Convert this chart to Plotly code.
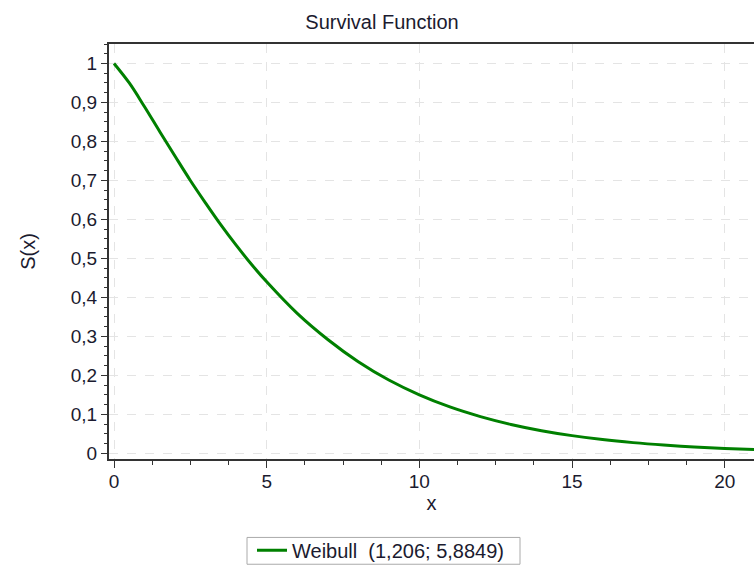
import plotly.graph_objects as go

x_values = [0, 0.5, 1, 1.5, 2, 2.5, 3, 3.5, 4, 4.5, 5, 6, 7, 8, 9, 10, 11, 12, 13, 14, 15, 16, 17, 18, 19, 20, 21]
s_values = [1.0, 0.950, 0.889, 0.825, 0.762, 0.700, 0.642, 0.586, 0.534, 0.485, 0.440, 0.359, 0.292, 0.235, 0.188,
            0.150, 0.119, 0.0943, 0.0742, 0.0582, 0.0455, 0.0354, 0.0275, 0.0213, 0.0164, 0.0126, 0.0097]
series_name = "Weibull  (1,206; 5,8849)"

W, H = 754, 570
L, T, R, B = 109, 44, 0, 108
plot_w = W - L - R
plot_h = H - T - B


def px_x(px):
    return (px - L) / plot_w


def px_y(py):
    return (H - B - py) / plot_h


fig = go.Figure()
fig.add_trace(go.Scatter(
    x=x_values, y=s_values, mode="lines", name=series_name,
    line=dict(color="#008000", width=3, shape="spline"),
    showlegend=True,
))

font_family = "Liberation Sans, Arial, sans-serif"
axis_color = "#333333"
text_color = "#1b1b2f"

fig.update_layout(
    width=W, height=H,
    margin=dict(l=L, t=T, r=R, b=B),
    paper_bgcolor="white", plot_bgcolor="white",
    separators=", ",
    font=dict(family=font_family, size=18, color=text_color),
    title=dict(text="Survival Function", x=382 / W, xanchor="center",
               y=1 - 22 / H, yanchor="middle", font=dict(size=20, color=text_color)),
    showlegend=True,
    legend=dict(x=px_x(252), xanchor="left", y=px_y(554), yanchor="middle",
                borderwidth=0, bgcolor="rgba(0,0,0,0)",
                font=dict(size=20, color=text_color), itemwidth=30, tracegroupgap=0),
    shapes=[dict(type="rect", xref="paper", yref="paper",
                 x0=px_x(247), x1=px_x(520), y0=px_y(568), y1=px_y(541),
                 line=dict(color="#aaaaaa", width=1), fillcolor="rgba(0,0,0,0)", layer="above")],
    xaxis=dict(
        range=[-0.164, 20.96], tickmode="linear", tick0=0, dtick=5,
        showline=True, linecolor=axis_color, linewidth=2, mirror=True,
        ticks="outside", ticklen=7, tickcolor=axis_color, tickwidth=1,
        minor=dict(dtick=1.25, tick0=0, ticks="outside", ticklen=4, tickcolor=axis_color, showgrid=False),
        showgrid=True, gridcolor="#e4e4e4", griddash="dash", gridwidth=1,
        zeroline=False,
        title=dict(text="x", font=dict(size=20), standoff=4),
        tickfont=dict(size=19),
        ticklabelstandoff=-3,
        automargin=False,
    ),
    yaxis=dict(
        range=[-0.0145, 1.050], tickmode="linear", tick0=0, dtick=0.1,
        showline=True, linecolor=axis_color, linewidth=2, mirror=False,
        ticks="outside", ticklen=6, tickcolor=axis_color, tickwidth=1,
        minor=dict(dtick=0.025, tick0=0, ticks="outside", ticklen=3, tickcolor=axis_color, showgrid=False),
        showgrid=True, gridcolor="#e4e4e4", griddash="dash", gridwidth=1,
        zeroline=False,
        title=dict(text="S(x)", font=dict(size=20), standoff=30),
        tickfont=dict(size=19),
        automargin=False,
    ),
)

fig.write_html("out.html", config={"displayModeBar": False},
               post_script="document.body.style.margin='0';document.body.style.overflow='hidden';")
